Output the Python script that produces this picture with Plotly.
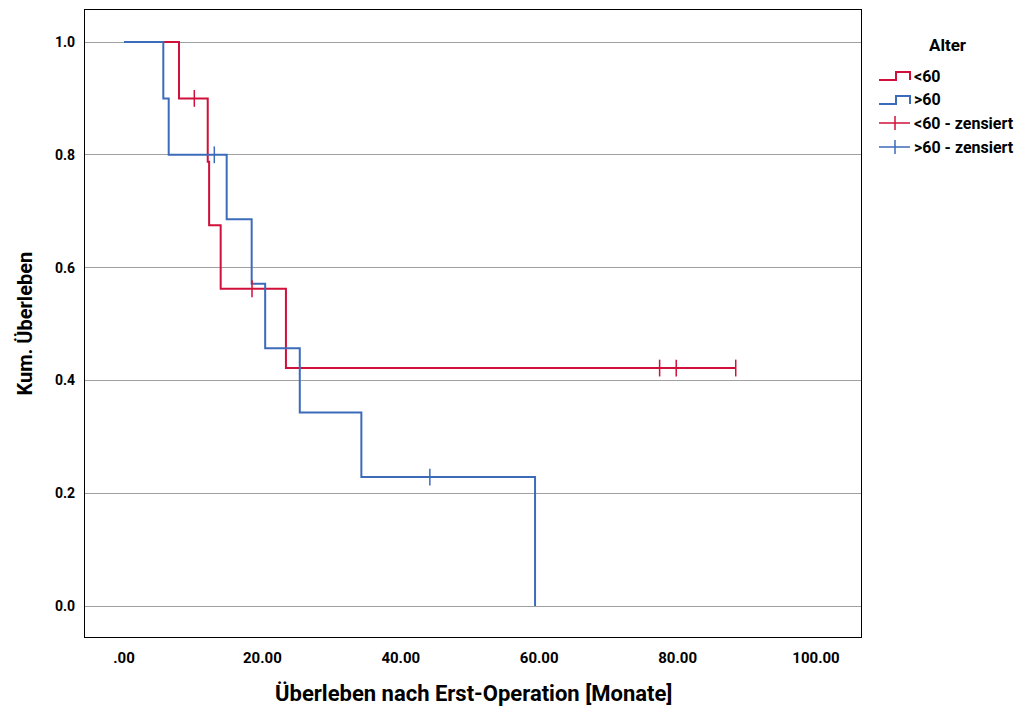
import plotly.graph_objects as go

# ---- data ----
lt60_times = [0.0, 7.95, 12.1, 12.3, 13.97, 23.4, 88.4]
lt60_surv = [1.0, 0.90, 0.7875, 0.675, 0.5625, 0.4219, 0.4219]
lt60_cens_t = [10.16, 18.5, 77.4, 79.8, 88.4]
lt60_cens_s = [0.90, 0.5625, 0.4219, 0.4219, 0.4219]

gt60_times = [0.0, 5.68, 6.46, 14.84, 18.45, 20.4, 25.4, 34.3, 59.4]
gt60_surv = [1.0, 0.90, 0.80, 0.6857, 0.5714, 0.4571, 0.3429, 0.2286, 0.0]
gt60_cens_t = [13.05, 44.2]
gt60_cens_s = [0.80, 0.2286]

x_ticks = [0, 20, 40, 60, 80, 100]
x_ticktext = [".00", "20.00", "40.00", "60.00", "80.00", "100.00"]
y_ticks = [0.0, 0.2, 0.4, 0.6, 0.8, 1.0]
y_ticktext = ["0.0", "0.2", "0.4", "0.6", "0.8", "1.0"]

legend_labels = ["<60", ">60", "<60 - zensiert", ">60 - zensiert"]

RED = "#D0103A"
BLUE = "#3C6BBA"
FONT = "Roboto, sans-serif"

W, H = 1020, 711
L, R, T, B = 85, 861, 10, 637  # plot area in px

fig = go.Figure()
fig.add_trace(go.Scatter(x=lt60_times, y=lt60_surv, mode="lines", line_shape="hv",
                         line=dict(color=RED, width=2), showlegend=False))
fig.add_trace(go.Scatter(x=gt60_times, y=gt60_surv, mode="lines", line_shape="hv",
                         line=dict(color=BLUE, width=2), showlegend=False))
fig.add_trace(go.Scatter(x=lt60_cens_t, y=lt60_cens_s, mode="markers",
                         marker=dict(symbol="line-ns-open", size=12, color=RED,
                                     line=dict(color=RED, width=1.5)), showlegend=False))
fig.add_trace(go.Scatter(x=gt60_cens_t, y=gt60_cens_s, mode="markers",
                         marker=dict(symbol="line-ns-open", size=12, color=BLUE,
                                     line=dict(color=BLUE, width=1.5)), showlegend=False))


def px_x(px):
    return (px - L) / (R - L)


def px_y(py):
    return (B - py) / (B - T)


shapes = []
annotations = []

# custom legend
colors = [RED, BLUE, RED, BLUE]
rows = [76, 100, 123, 147]
for i, (lab, col, yc) in enumerate(zip(legend_labels, colors, rows)):
    if i < 2:
        path = "M {} {} L {} {} L {} {} L {} {} L {} {}".format(
            px_x(879), px_y(yc + 4), px_x(896), px_y(yc + 4), px_x(896), px_y(yc - 4),
            px_x(910), px_y(yc - 4), px_x(910), px_y(yc + 4))
        shapes.append(dict(type="path", xref="paper", yref="paper", path=path,
                           line=dict(color=col, width=2)))
    else:
        shapes.append(dict(type="line", xref="paper", yref="paper",
                           x0=px_x(879), x1=px_x(910), y0=px_y(yc), y1=px_y(yc),
                           line=dict(color=col, width=1.5)))
        shapes.append(dict(type="line", xref="paper", yref="paper",
                           x0=px_x(895), x1=px_x(895), y0=px_y(yc - 7), y1=px_y(yc + 7),
                           line=dict(color=col, width=1.5)))
    annotations.append(dict(text="<b>%s</b>" % lab.replace("<", "&lt;"), xref="paper", yref="paper",
                            x=px_x(912), y=px_y(yc), xanchor="left", yanchor="middle",
                            showarrow=False, font=dict(family=FONT, size=16, color="black")))

annotations.append(dict(text="<b>Alter</b>", xref="paper", yref="paper",
                        x=px_x(948), y=px_y(45), xanchor="center", yanchor="middle",
                        showarrow=False, font=dict(family=FONT, size=17, color="black")))
# axis titles
annotations.append(dict(text="<b>Überleben nach Erst-Operation [Monate]</b>", xref="paper", yref="paper",
                        x=0.5, y=px_y(693), xanchor="center", yanchor="middle",
                        showarrow=False, font=dict(family=FONT, size=22, color="black")))
annotations.append(dict(text="<b>Kum. Überleben</b>", xref="paper", yref="paper",
                        x=px_x(24), y=0.5, xanchor="center", yanchor="middle", textangle=-90,
                        showarrow=False, font=dict(family=FONT, size=20, color="black")))

x0 = (L - 124) / 6.92
x1 = (R - 124) / 6.92
y0 = (606 - B) / 564
y1 = (606 - T) / 564

fig.update_layout(
    width=W, height=H,
    margin=dict(l=L, r=W - R, t=T, b=H - B, autoexpand=False),
    paper_bgcolor="white", plot_bgcolor="white",
    showlegend=False,
    shapes=shapes, annotations=annotations,
    font=dict(family=FONT, color="black"),
    xaxis=dict(range=[x0, x1], tickvals=x_ticks, ticktext=["<b>%s</b>" % t for t in x_ticktext],
               showgrid=False, zeroline=False, showline=True, mirror=True,
               linecolor="black", linewidth=1.2, ticks="", ticklabelstandoff=7,
               tickfont=dict(family=FONT, size=15, color="black")),
    yaxis=dict(range=[y0, y1], tickvals=y_ticks, ticktext=["<b>%s</b>" % t for t in y_ticktext],
               showgrid=True, gridcolor="#A0A0A0", gridwidth=1.2, zeroline=False,
               showline=True, mirror=True, linecolor="black", linewidth=1.2, ticks="",
               ticklabelstandoff=6, tickfont=dict(family=FONT, size=14, color="black")),
)

fig.write_html("out.html")
